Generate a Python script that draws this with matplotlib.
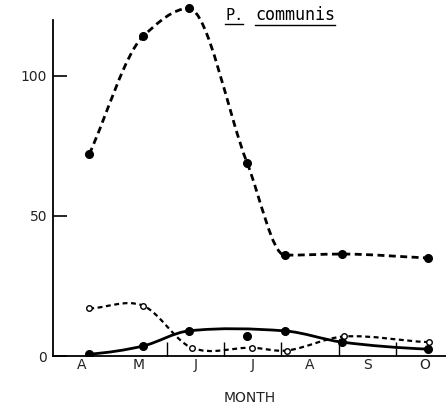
import numpy as np
import matplotlib.pyplot as plt
from matplotlib.path import Path
from matplotlib.patches import PathPatch
from matplotlib.lines import Line2D

# ------------------------------------------------------------
# data (x in months after 1 April)
# ------------------------------------------------------------
MONTHS = ["A", "M", "J", "J", "A", "S", "O"]
MONTH_CENTERS = [0.5, 1.5, 2.5, 3.5, 4.5, 5.5, 6.5]
BOUNDARY_TICKS = [2, 3, 4, 5, 6]

top_x = [0.64, 1.58, 2.38, 3.40, 4.06, 5.06, 6.56]
top_y = [72, 114, 124, 69, 36, 36.4, 35]

solid_x = [0.64, 1.58, 2.38, 3.40, 4.06, 5.06, 6.56]
solid_y = [0.7, 3.6, 9.0, 7.0, 9.0, 5.0, 2.5]

open_x = [0.64, 1.58, 2.43, 3.49, 4.10, 5.10, 6.58]
open_y = [17, 18, 3, 3, 2, 7, 5]


def hermite_path(x, y, monotone=True):
    """Smooth cubic curve through the points, as a Bezier path.

    monotone=True gives PCHIP tangents (no overshoot), otherwise
    Catmull-Rom style tangents.
    """
    x = np.asarray(x, float)
    y = np.asarray(y, float)
    h = np.diff(x)
    d = np.diff(y) / h
    m = np.zeros_like(y)
    for i in range(1, len(y) - 1):
        if monotone:
            if d[i - 1] * d[i] > 0:
                w1 = 2 * h[i] + h[i - 1]
                w2 = h[i] + 2 * h[i - 1]
                m[i] = (w1 + w2) / (w1 / d[i - 1] + w2 / d[i])
        else:
            m[i] = (y[i + 1] - y[i - 1]) / (x[i + 1] - x[i - 1])
    m[0] = d[0] if monotone else 0.5 * d[0]
    m[-1] = d[-1] if monotone else 0.5 * d[-1]
    verts = [(x[0], y[0])]
    codes = [Path.MOVETO]
    for i in range(len(x) - 1):
        verts += [(x[i] + h[i] / 3, y[i] + m[i] * h[i] / 3),
                  (x[i + 1] - h[i] / 3, y[i + 1] - m[i + 1] * h[i] / 3),
                  (x[i + 1], y[i + 1])]
        codes += [Path.CURVE4] * 3
    return Path(verts, codes)


fig = plt.figure(figsize=(4.46, 4.07), dpi=100)
ax = fig.add_axes([0.118, 0.125, 0.882, 0.875])
ax.set_xlim(0, 6.88)
ax.set_ylim(0, 127)

# curves
ax.add_patch(PathPatch(hermite_path(top_x, top_y), fill=False, lw=2.0,
                       ls=(0, (2.5, 1.6)), ec="black", capstyle="butt"))
keep = [0, 1, 2, 4, 5, 6]   # hand-drawn solid curve skips the July point
ax.add_patch(PathPatch(hermite_path([solid_x[i] for i in keep],
                                    [solid_y[i] for i in keep], monotone=False),
                       fill=False, lw=2.0, ec="black"))
ax.add_patch(PathPatch(hermite_path(open_x, open_y, monotone=False),
                       fill=False, lw=1.6, ls=(0, (2.2, 1.6)), ec="black"))

# markers
ax.plot(top_x, top_y, "o", color="black", ms=5.5, ls="none", zorder=3)
ax.plot(solid_x, solid_y, "o", color="black", ms=5.5, ls="none", zorder=3)
ax.plot(open_x, open_y, "o", mfc="white", mec="black", mew=1.0, ms=4,
        ls="none", zorder=3)

# axes styling
for s in ["top", "right"]:
    ax.spines[s].set_visible(False)
ax.spines["left"].set_bounds(0, 120)
ax.spines["left"].set_linewidth(1.3)
ax.spines["bottom"].set_linewidth(1.3)

ax.set_yticks([0, 50, 100])
ax.set_yticklabels(["0", "50", "100"])
ax.tick_params(axis="y", direction="in", length=10, width=1.2, pad=4,
               labelsize=10, labelcolor="#222222")

ax.set_xticks(BOUNDARY_TICKS)
ax.set_xticklabels([])
ax.tick_params(axis="x", which="major", direction="in", length=10, width=1.0)
ax.set_xticks(MONTH_CENTERS, minor=True)
ax.set_xticklabels(MONTHS, minor=True)
ax.tick_params(axis="x", which="minor", length=0, pad=1, labelsize=10,
               labelcolor="#222222")

ax.set_xlabel("MONTH", fontsize=10, labelpad=14, color="#222222")

# title with underline
t1 = fig.text(0.505, 0.952, "P.", fontsize=11, family="DejaVu Sans Mono",
              ha="left", va="baseline")
t2 = fig.text(0.572, 0.952, "communis", fontsize=12,
              family="DejaVu Sans Mono", ha="left", va="baseline")
fig.canvas.draw()
for t in (t1, t2):
    bb = t.get_window_extent().transformed(fig.transFigure.inverted())
    fig.lines.append(Line2D([bb.x0, bb.x1], [bb.y0 - 0.004, bb.y0 - 0.004],
                            transform=fig.transFigure, color="black", lw=1.0))

fig.savefig("out.png", dpi=100)
